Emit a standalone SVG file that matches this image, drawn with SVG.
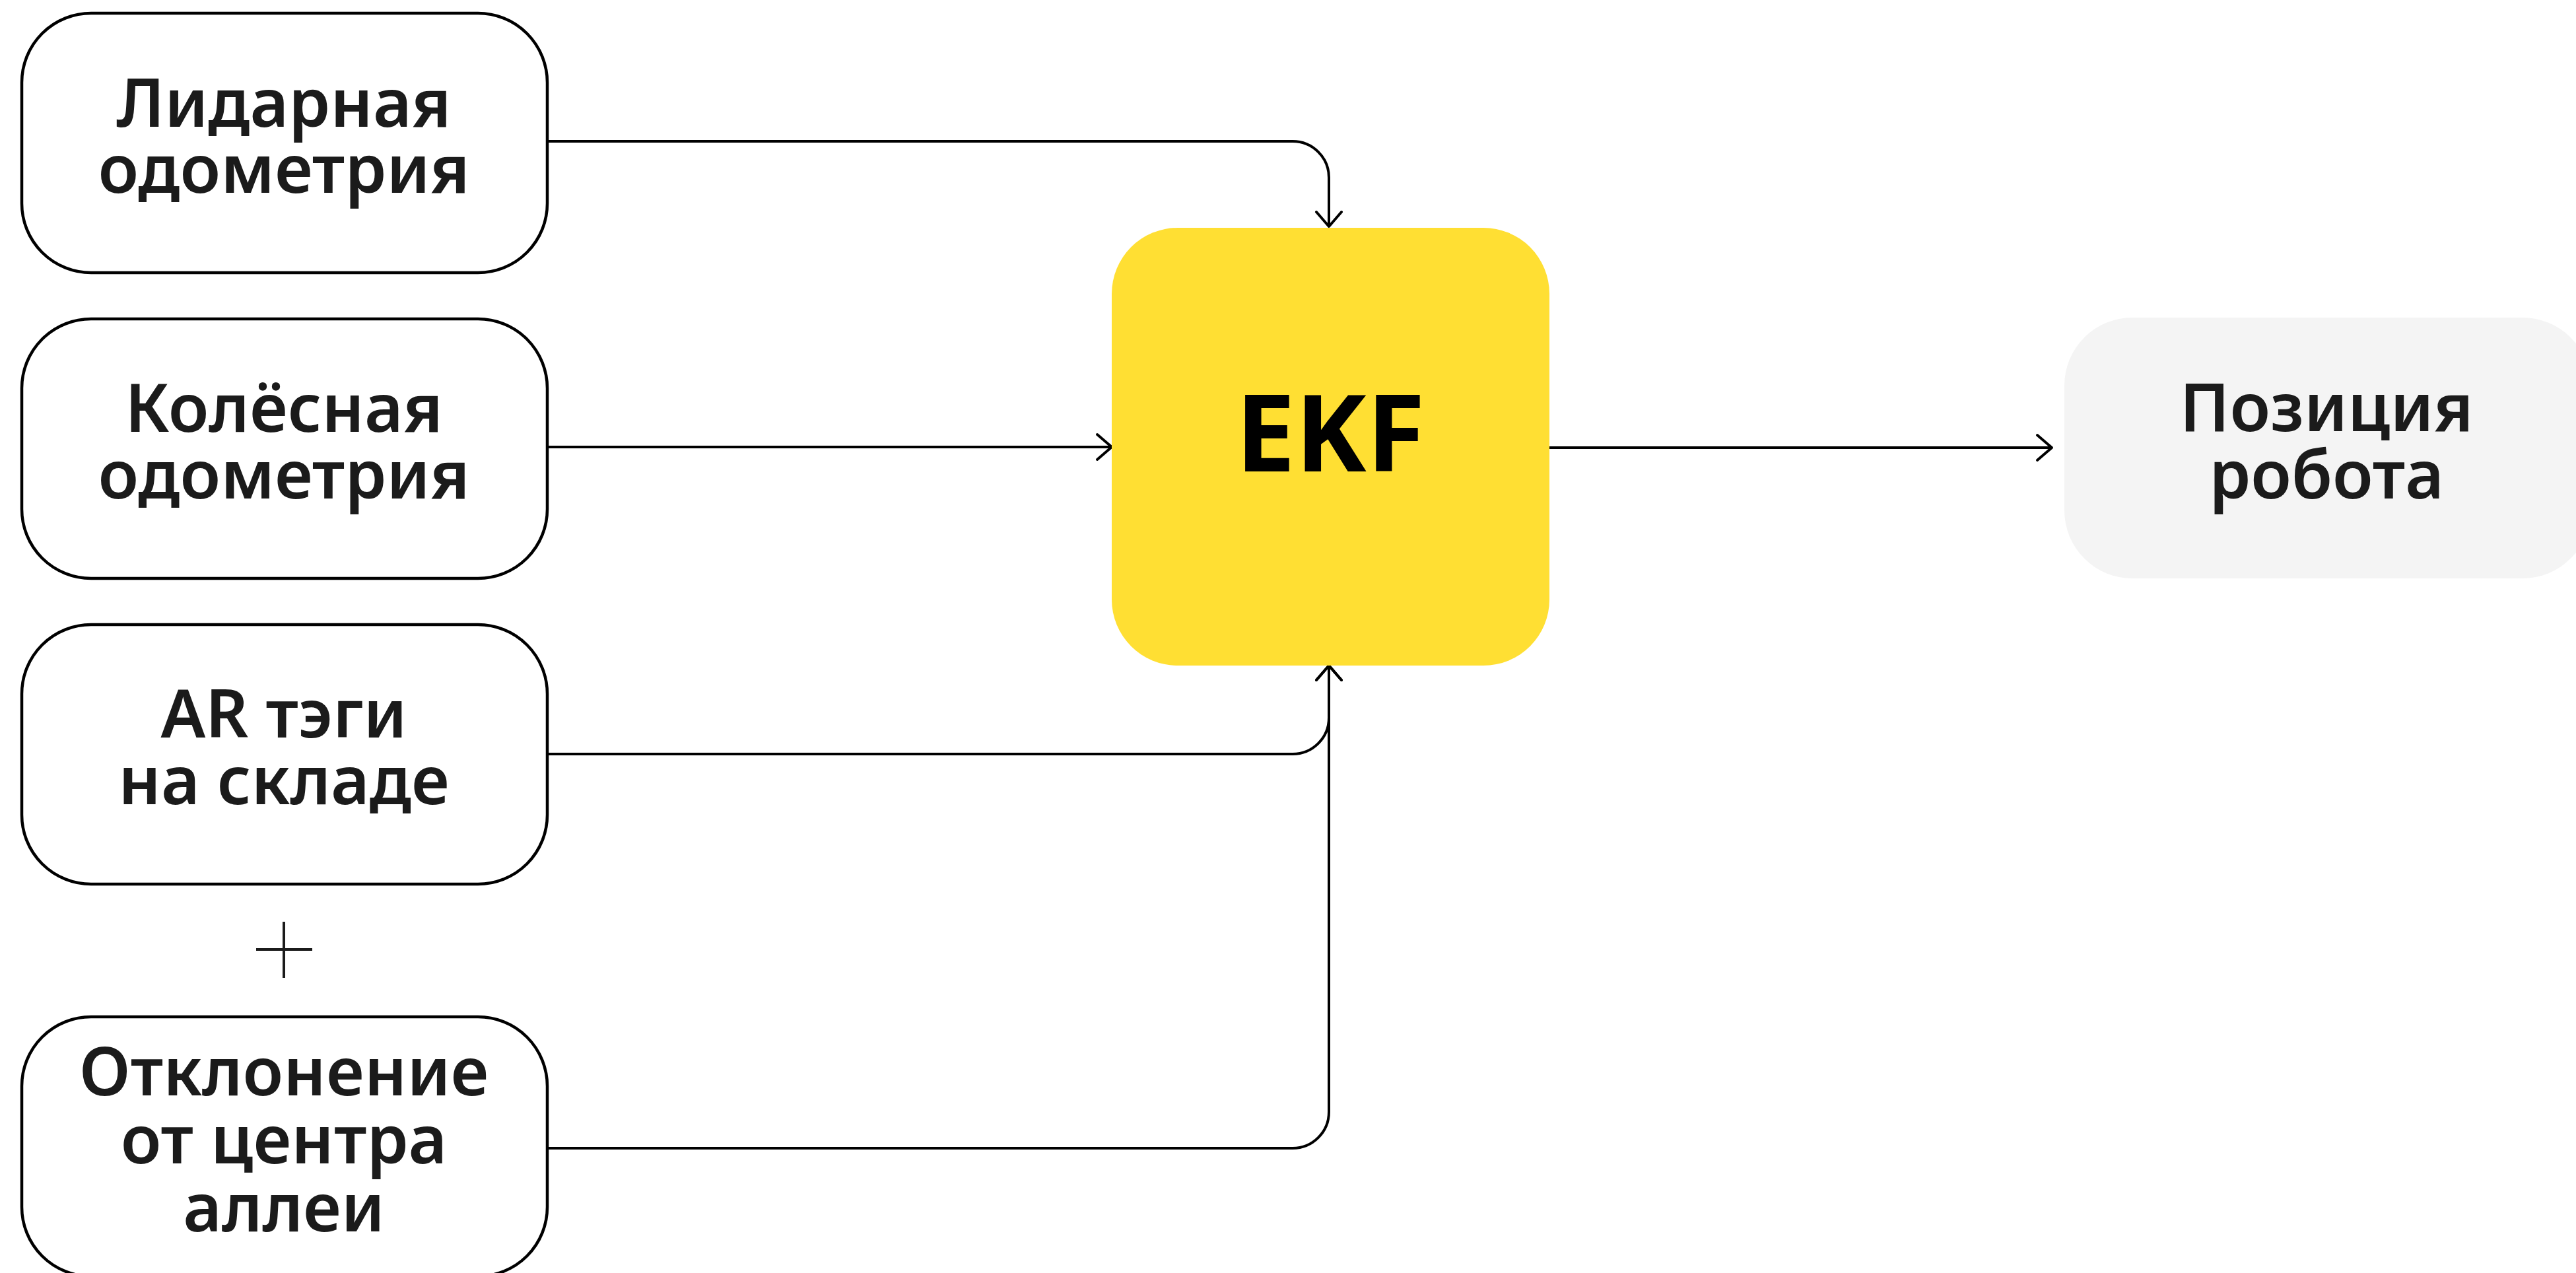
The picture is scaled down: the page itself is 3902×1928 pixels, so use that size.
<svg xmlns="http://www.w3.org/2000/svg" width="3902" height="1928" viewBox="0 0 3902 1928">
  <defs>
    <marker id="arr" markerUnits="userSpaceOnUse" viewBox="-30 -25 36 50" refX="0" refY="0" markerWidth="36" markerHeight="50" orient="auto" overflow="visible">
      <path d="M -22 -19 L 0 0 L -22 19" fill="none" stroke="#000" stroke-width="4" stroke-linecap="round" stroke-linejoin="round"/>
    </marker>
  </defs>
  <style>
    .src { fill: #ffffff; stroke: #000000; stroke-width: 4.5; }
    .lbl { font-family: "Noto Sans", "Open Sans", "Liberation Sans", sans-serif; font-weight: 600; font-size: 101px; fill: #1b1b1b; text-anchor: middle; }
    .conn { fill: none; stroke: #000000; stroke-width: 4; marker-end: url(#arr); }
    .ekf { fill: #FFDF33; }
    .out { fill: #F4F4F4; }
    .ekft { font-family: "Noto Sans", "Liberation Sans", sans-serif; font-weight: 700; font-size: 162px; fill: #000; text-anchor: middle; }
  </style>
  <rect width="3902" height="1928" fill="#ffffff"/>

  <g id="connectors">
    <path class="conn" d="M 829 214 L 1958 214 A 55 55 0 0 1 2013 269 L 2013 343"/>
    <path class="conn" d="M 829 677 L 1684 677"/>
    <path class="conn" d="M 829 1142 L 1958 1142 A 55 55 0 0 0 2013 1087 L 2013 1008"/>
    <path class="conn" d="M 829 1739 L 1958 1739 A 55 55 0 0 0 2013 1684 L 2013 1008"/>
    <path class="conn" d="M 2347 678 L 3108 678"/>
  </g>

  <g id="node-lidar">
    <rect class="src" x="33" y="20" width="796" height="393" rx="105" ry="105"/>
    <text class="lbl" x="430" y="192">Лидарная</text>
    <text class="lbl" x="430" y="292">одометрия</text>
  </g>

  <g id="node-wheel">
    <rect class="src" x="33" y="483" width="796" height="393" rx="105" ry="105"/>
    <text class="lbl" x="430" y="654">Колёсная</text>
    <text class="lbl" x="430" y="755">одометрия</text>
  </g>

  <g id="node-ar">
    <rect class="src" x="33" y="946" width="796" height="393" rx="105" ry="105"/>
    <text class="lbl" x="430" y="1117">AR тэги</text>
    <text class="lbl" x="430" y="1218">на складе</text>
  </g>

  <g id="plus">
    <path d="M 388 1438 L 473 1438 M 430 1396 L 430 1481" fill="none" stroke="#1b1b1b" stroke-width="4"/>
  </g>

  <g id="node-deviation">
    <rect class="src" x="33" y="1540" width="796" height="393" rx="105" ry="105"/>
    <text class="lbl" x="430" y="1659">Отклонение</text>
    <text class="lbl" x="430" y="1762">от центра</text>
    <text class="lbl" x="430" y="1865">аллеи</text>
  </g>

  <g id="node-ekf">
    <rect class="ekf" x="1684" y="345" width="663" height="663" rx="100" ry="100"/>
    <text class="ekft" x="2015" y="714">EKF</text>
  </g>

  <g id="node-position">
    <rect class="out" x="3127" y="481" width="797" height="395" rx="103" ry="103"/>
    <text class="lbl" x="3524" y="653">Позиция</text>
    <text class="lbl" x="3524" y="755">робота</text>
  </g>
</svg>
